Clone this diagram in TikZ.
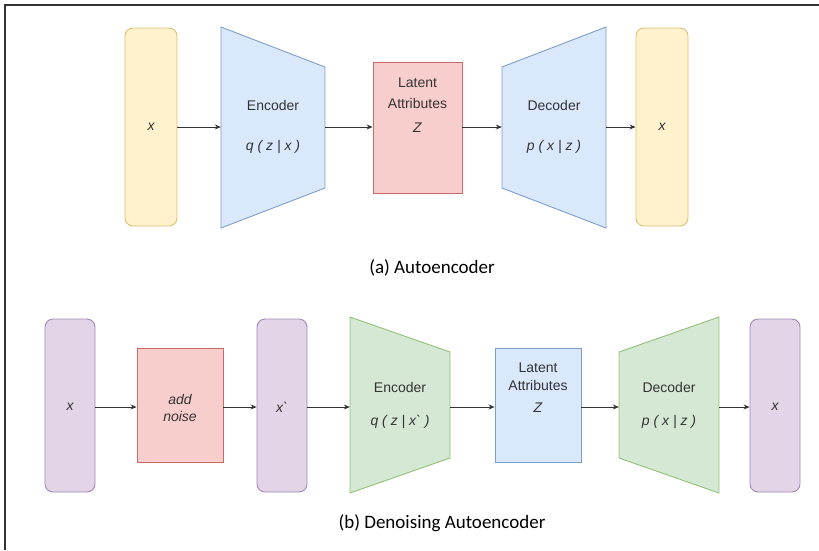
\documentclass[tikz,border=0pt]{standalone}
\usepackage{fontspec}
\setmainfont{Liberation Sans}
\newfontfamily\capfont{Carlito}
\usetikzlibrary{arrows.meta}

% draw.io palette
\definecolor{ylwF}{HTML}{FFF2CC}\definecolor{ylwD}{HTML}{DCC070}
\definecolor{bluF}{HTML}{DAE8FC}\definecolor{bluD}{HTML}{7D9ECC}
\definecolor{redF}{HTML}{F8CECC}\definecolor{redD}{HTML}{C86A66}
\definecolor{purF}{HTML}{E1D5E7}\definecolor{purD}{HTML}{A488B4}
\definecolor{grnF}{HTML}{D5E8D4}\definecolor{grnD}{HTML}{92C07A}
\definecolor{ink}{HTML}{333333}

\tikzset{
  databox/.style={rounded corners=8pt, line width=0.9pt, inner sep=0pt,
    minimum width=52pt, minimum height=#1},
  flatbox/.style={line width=0.9pt, inner sep=0pt},
  slot/.style={inner sep=0pt, draw=none},
  lbl/.style={inner sep=0pt, text=ink, font=\fontsize{14}{16}\selectfont},
  ilbl/.style={lbl, font=\fontsize{14}{16}\selectfont\itshape},
  captxt/.style={inner sep=0pt, text=black, font=\capfont\fontsize{19}{23}\selectfont},
  flow/.style={-{Stealth[length=6pt,width=5pt]}, line width=0.8pt, draw=ink},
  trap/.style={line width=0.9pt, line join=miter},
}

\begin{document}
\begin{tikzpicture}[x=1pt,y=-1pt]
\useasboundingbox (0,0) rectangle (819,550);

% frame (top and left edges)
\draw[line width=2pt, draw=ink] (5,550) -- (5,5) -- (819,5);

%%% (a) Autoencoder
\node[databox=198pt, fill=ylwF, draw=ylwD] (ain) at (151,127) {};
\node[ilbl] (ainl) at (ain) {x};

\node[slot, minimum width=104pt, minimum height=201pt] (aenc) at (273,127.5) {};
\filldraw[trap, fill=bluF, draw=bluD] (221,27) -- (325,67) -- (325,188) -- (221,228) -- cycle;
\node[lbl] (aencl) at (273,105) {Encoder};
\node[ilbl] (aencq) at (273,147) {q ( z | x )};

\node[flatbox, fill=redF, draw=redD, minimum width=89pt, minimum height=131pt] (alat) at (417.5,127.5) {};
\node[lbl] (alat1) at (417.5,83) {Latent};
\node[lbl] (alat2) at (417.5,103) {Attributes};
\node[ilbl] (alatz) at (417.5,128) {Z};

\node[slot, minimum width=104pt, minimum height=201pt] (adec) at (554,127.5) {};
\filldraw[trap, fill=bluF, draw=bluD] (502,67) -- (606,27) -- (606,228) -- (502,188) -- cycle;
\node[lbl] (adecl) at (554,105) {Decoder};
\node[ilbl] (adecp) at (554,147) {p ( x | z )};

\node[databox=198pt, fill=ylwF, draw=ylwD] (aout) at (662,127) {};
\node[ilbl] (aoutl) at (aout) {x};

\draw[flow] (ain.east |- 0,127) -- (aenc.west |- 0,127);
\draw[flow] (aenc.east |- 0,127) -- (alat.west |- 0,127);
\draw[flow] (alat.east |- 0,127) -- (adec.west |- 0,127);
\draw[flow] (adec.east |- 0,127) -- (aout.west |- 0,127);

\node[captxt] (acap) at (432,268) {(a) Autoencoder};

%%% (b) Denoising Autoencoder
\node[databox=173pt, fill=purF, draw=purD, minimum width=50pt] (bin) at (70,405.5) {};
\node[ilbl] (binl) at (70,407) {x};

\node[flatbox, fill=redF, draw=redD, minimum width=86pt, minimum height=114pt] (bnoise) at (180,405) {};
\node[ilbl, align=center, font=\fontsize{14}{17}\selectfont\itshape] (bnoisel) at (180,408) {add\\noise};

\node[databox=173pt, fill=purF, draw=purD, minimum width=50pt] (bmid) at (282,405.5) {};
\node[ilbl] (bmidl) at (282,407) {x\textasciigrave};

\node[slot, minimum width=100pt, minimum height=176pt] (benc) at (400,405) {};
\filldraw[trap, fill=grnF, draw=grnD] (350,317) -- (450,352) -- (450,458) -- (350,493) -- cycle;
\node[lbl] (bencl) at (400,387) {Encoder};
\node[ilbl] (bencq) at (400,422) {q ( z | x\textasciigrave{} )};

\node[flatbox, fill=bluF, draw=bluD, minimum width=86pt, minimum height=114pt] (blat) at (538,405) {};
\node[lbl] (blat1) at (538,368) {Latent};
\node[lbl] (blat2) at (538,385) {Attributes};
\node[ilbl] (blatz) at (538,408) {Z};

\node[slot, minimum width=100pt, minimum height=176pt] (bdec) at (669,405) {};
\filldraw[trap, fill=grnF, draw=grnD] (619,352) -- (719,317) -- (719,493) -- (619,458) -- cycle;
\node[lbl] (bdecl) at (669,387) {Decoder};
\node[ilbl] (bdecp) at (669,422) {p ( x | z )};

\node[databox=173pt, fill=purF, draw=purD, minimum width=50pt] (bout) at (775,405.5) {};
\node[ilbl] (boutl) at (775,407) {x};

\draw[flow] (bin.east |- 0,407) -- (bnoise.west |- 0,407);
\draw[flow] (bnoise.east |- 0,407) -- (bmid.west |- 0,407);
\draw[flow] (bmid.east |- 0,407) -- (benc.west |- 0,407);
\draw[flow] (benc.east |- 0,407) -- (blat.west |- 0,407);
\draw[flow] (blat.east |- 0,407) -- (bdec.west |- 0,407);
\draw[flow] (bdec.east |- 0,407) -- (bout.west |- 0,407);

\node[captxt] (bcap) at (442,523) {(b) Denoising Autoencoder};
\end{tikzpicture}
\end{document}
